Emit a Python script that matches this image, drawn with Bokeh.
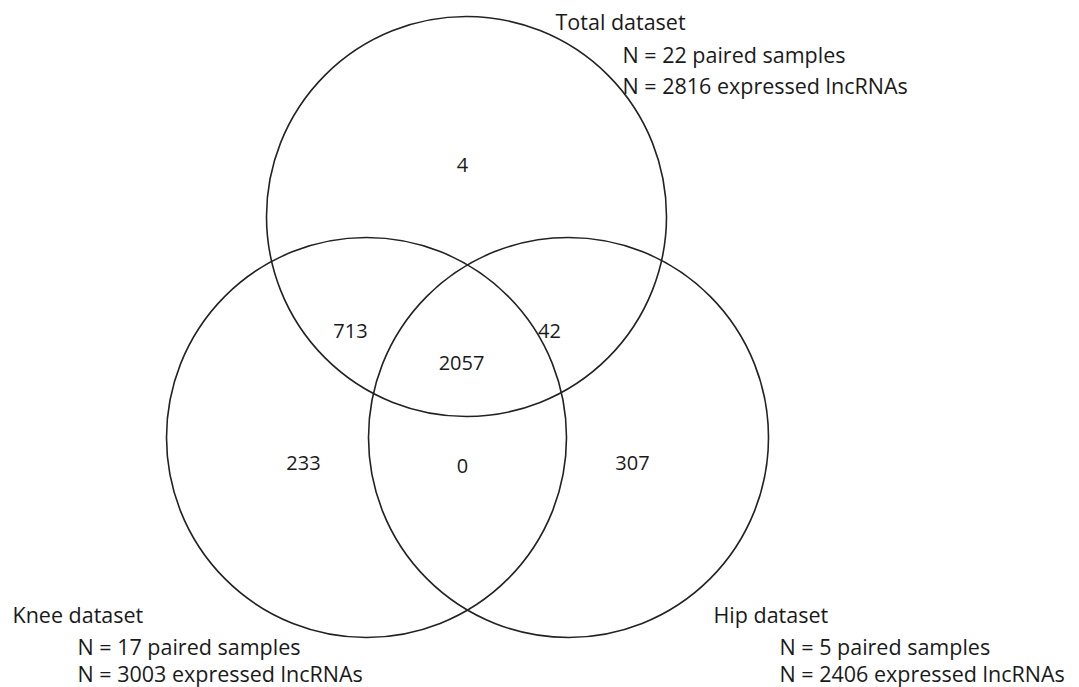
from bokeh.plotting import figure
from bokeh.models import Range1d, ColumnDataSource
from bokeh.core.properties import value
from bokeh.embed import file_html
from bokeh.resources import INLINE

# ---- data ----
set_names = ["Total dataset", "Knee dataset", "Hip dataset"]
paired_samples = [22, 17, 5]
expressed_lncrnas = [2816, 3003, 2406]
region_names = ["Total only", "Total & Knee", "Total & Hip", "All three",
                "Knee only", "Knee & Hip", "Hip only"]
region_counts = [4, 713, 42, 2057, 233, 0, 307]

# ---- layout (image pixel coordinates, y measured downward) ----
H_IMG = 687
circle_cx = [466, 366, 568]
circle_cy = [216, 437, 437]
circle_r = 200
region_x = [462, 350, 549, 461, 303, 462, 632]
region_y = [164, 330, 330, 362, 462, 465, 462]
# label blocks: title x, indent x, line anchor y
block_title_x = [555, 12, 713]
block_indent_x = [622, 77, 779]
block_lines_y = [[21, 54, 85], [614, 646, 673], [614, 646, 673]]

W, H = 1079, 687
p = figure(width=W, height=H, output_backend="svg", toolbar_location=None,
           x_range=Range1d(0, W), y_range=Range1d(0, H),
           min_border=0, min_border_left=0, min_border_right=0,
           min_border_top=0, min_border_bottom=0)
p.axis.visible = False
p.xgrid.visible = False
p.ygrid.visible = False
p.outline_line_color = None
p.background_fill_color = "white"
p.border_fill_color = "white"

FONT = value("Open Sans")
COLOR = "#1a1a1a"

circ = ColumnDataSource(dict(x=circle_cx, y=[H_IMG - v for v in circle_cy],
                             name=set_names))
p.circle(x="x", y="y", radius=circle_r, source=circ, fill_color=None,
         line_color="#222222", line_width=1.6)

reg = ColumnDataSource(dict(x=region_x, y=[H_IMG - v for v in region_y],
                            t=[str(v) for v in region_counts]))
p.text(x="x", y="y", text="t", source=reg, text_font=FONT,
       text_font_size=value("20px"), text_align="center",
       text_baseline="middle", text_color=COLOR)

xs, ys, ts = [], [], []
for i, name in enumerate(set_names):
    lines = [name,
             f"N = {paired_samples[i]} paired samples",
             f"N = {expressed_lncrnas[i]} expressed lncRNAs"]
    for j, line in enumerate(lines):
        xs.append(block_title_x[i] if j == 0 else block_indent_x[i])
        ys.append(H_IMG - block_lines_y[i][j])
        ts.append(line)
lab = ColumnDataSource(dict(x=xs, y=ys, t=ts))
p.text(x="x", y="y", text="t", source=lab, text_font=FONT,
       text_font_size=value("21.5px"), text_align="left",
       text_baseline="alphabetic", text_color=COLOR)

open("out.html", "w").write(file_html(p, INLINE))
